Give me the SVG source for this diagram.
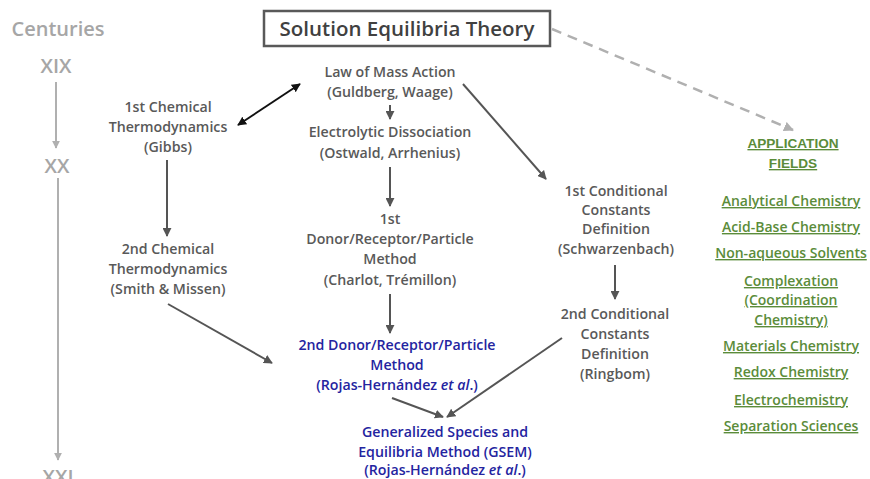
<svg xmlns="http://www.w3.org/2000/svg" width="870" height="479" viewBox="0 0 870 479">
<defs>
<marker id="ah" viewBox="0 0 10 10" refX="9" refY="5" markerWidth="4.5" markerHeight="4.5" orient="auto-start-reverse"><path d="M0,0 L10,5 L0,10 z" fill="#555"/></marker>
<marker id="ahk" viewBox="0 0 10 10" refX="9" refY="5" markerWidth="4.5" markerHeight="4.5" orient="auto-start-reverse"><path d="M0,0 L10,5 L0,10 z" fill="#111"/></marker>
<marker id="ahg" viewBox="0 0 10 10" refX="9" refY="5" markerWidth="4" markerHeight="4" orient="auto-start-reverse"><path d="M0,0 L10,5 L0,10 z" fill="#b0b0b0"/></marker>
<marker id="ahl" viewBox="0 0 10 10" refX="9" refY="5" markerWidth="4" markerHeight="4" orient="auto-start-reverse"><path d="M0,0 L10,5 L0,10 z" fill="#b0b0b0"/></marker>
</defs>
<style>
text{font-family:"Open Sans","Noto Sans",sans-serif;font-weight:600;text-anchor:middle}
.n{font-size:14.2px;fill:#595959}
.b{font-size:14.2px;fill:#2424a0}
.c{font-size:20px;fill:#a6a6a6}
.g{font-size:14px;fill:#5b8c3a;text-decoration:underline}
.ga{font-family:"Liberation Sans",Arial,sans-serif;font-weight:bold;font-size:13.6px;fill:#5b8c3a;text-decoration:underline}
.e{stroke:#555;stroke-width:2;fill:none;marker-end:url(#ah)}
</style>
<rect width="870" height="479" fill="#fff"/>
<g id="timeline">
<text class="c" x="58" y="36">Centuries</text>
<text class="c" x="56" y="73">XIX</text>
<text class="c" x="57" y="173">XX</text>
<text class="c" x="58" y="484">XXI</text>
<line x1="56" y1="82" x2="56" y2="148" stroke="#b0b0b0" stroke-width="2" marker-end="url(#ahl)"/>
<line x1="58" y1="178" x2="58" y2="460" stroke="#b0b0b0" stroke-width="2" marker-end="url(#ahl)"/>
</g>
<g id="title">
<rect x="264" y="11" width="286" height="35" fill="#fff" stroke="#595959" stroke-width="2.5"/>
<text x="407" y="36" style="font-size:20.5px;fill:#404040">Solution Equilibria Theory</text>
</g>
<g id="gibbs"><text class="n" x="168" y="112">1st Chemical</text><text class="n" x="168" y="132">Thermodynamics</text><text class="n" x="168" y="152">(Gibbs)</text></g>
<g id="smith"><text class="n" x="168" y="254">2nd Chemical</text><text class="n" x="168" y="274">Thermodynamics</text><text class="n" x="168" y="294">(Smith &amp; Missen)</text></g>
<g id="mass"><text class="n" x="390" y="77">Law of Mass Action</text><text class="n" x="390" y="97">(Guldberg, Waage)</text></g>
<g id="electro"><text class="n" x="390" y="137">Electrolytic Dissociation</text><text class="n" x="390" y="158">(Ostwald, Arrhenius)</text></g>
<g id="dr1"><text class="n" x="390" y="224">1st</text><text class="n" x="390" y="244">Donor/Receptor/Particle</text><text class="n" x="390" y="264">Method</text><text class="n" x="390" y="285">(Charlot, Trémillon)</text></g>
<g id="dr2"><text class="b" x="397" y="350">2nd Donor/Receptor/Particle</text><text class="b" x="397" y="370">Method</text><text class="b" x="397" y="390">(Rojas-Hernández <tspan font-style="italic">et al</tspan>.)</text></g>
<g id="gsem"><text class="b" x="445" y="437">Generalized Species and</text><text class="b" x="445" y="457">Equilibria Method (GSEM)</text><text class="b" x="445" y="475">(Rojas-Hernández <tspan font-style="italic">et al</tspan>.)</text></g>
<g id="cc1"><text class="n" x="616" y="196">1st Conditional</text><text class="n" x="616" y="215">Constants</text><text class="n" x="616" y="234">Definition</text><text class="n" x="616" y="254">(Schwarzenbach)</text></g>
<g id="cc2"><text class="n" x="615" y="319">2nd Conditional</text><text class="n" x="615" y="339">Constants</text><text class="n" x="615" y="359">Definition</text><text class="n" x="615" y="379">(Ringbom)</text></g>
<g id="fields">
<text class="ga" x="793" y="148">APPLICATION</text>
<text class="ga" x="793" y="168">FIELDS</text>
<text class="g" x="791" y="206">Analytical Chemistry</text>
<text class="g" x="791" y="232">Acid-Base Chemistry</text>
<text class="g" x="791" y="258">Non-aqueous Solvents</text>
<text class="g" x="791" y="286">Complexation</text>
<text class="g" x="791" y="305">(Coordination</text>
<text class="g" x="791" y="325">Chemistry)</text>
<text class="g" x="791" y="351">Materials Chemistry</text>
<text class="g" x="791" y="377">Redox Chemistry</text>
<text class="g" x="791" y="405">Electrochemistry</text>
<text class="g" x="791" y="431">Separation Sciences</text>
</g>
<g id="connectors">
<line x1="238" y1="125" x2="300" y2="84" stroke="#111" stroke-width="2" marker-start="url(#ahk)" marker-end="url(#ahk)"/>
<line class="e" x1="390" y1="105" x2="390" y2="119"/>
<line class="e" x1="390" y1="167" x2="390" y2="206"/>
<line class="e" x1="390" y1="294" x2="390" y2="333"/>
<line class="e" x1="463" y1="84" x2="546" y2="179"/>
<line class="e" x1="615" y1="265" x2="615" y2="299"/>
<line class="e" x1="167" y1="160" x2="167" y2="236"/>
<line class="e" x1="168" y1="304" x2="272" y2="363"/>
<line class="e" x1="392" y1="398" x2="443" y2="417"/>
<line class="e" x1="562" y1="338" x2="447" y2="417"/>
<line x1="552" y1="29" x2="793" y2="130" stroke="#b0b0b0" stroke-width="2.5" stroke-dasharray="10,7" marker-end="url(#ahg)"/>
</g>
</svg>
